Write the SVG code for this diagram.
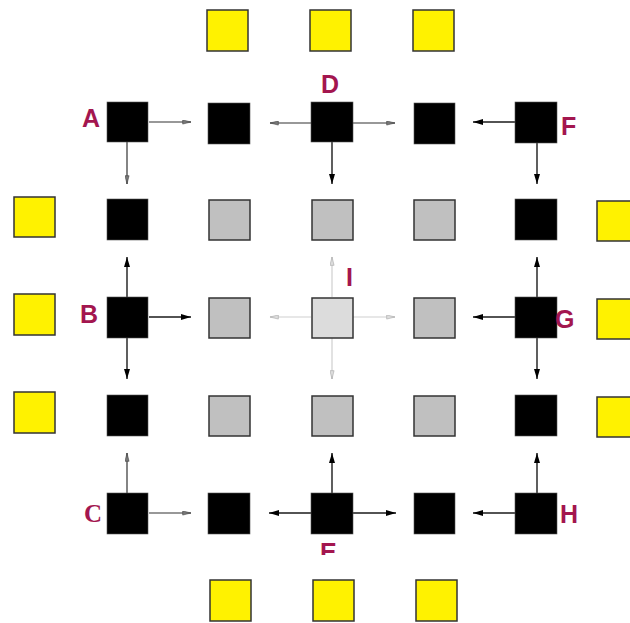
<svg xmlns="http://www.w3.org/2000/svg" width="630" height="623" viewBox="0 0 630 623">
<style>
.y{fill:#fff200;stroke:#333;stroke-width:1.5}
.b{fill:#000;stroke:#555;stroke-width:0.6}
.g{fill:#c0c0c0;stroke:#333;stroke-width:1.5}
.c{fill:#dcdcdc;stroke:#333;stroke-width:1.5}
.lbl{font-family:"Liberation Sans",Arial,sans-serif;font-weight:bold;font-size:25px;fill:#a3164f}
.ser{font-family:"Liberation Serif","Times New Roman",serif}
.a{stroke:#1a1a1a;stroke-width:1.4;fill:none;marker-end:url(#hd)}
.t{stroke:#333;stroke-width:1.2;fill:none;marker-end:url(#hl)}
.i{stroke:#cfcfcf;stroke-width:1.2;fill:none;marker-end:url(#hi)}
</style>
<defs>
<marker id="hd" viewBox="0 0 10 6" refX="10" refY="3" markerWidth="10" markerHeight="6" markerUnits="userSpaceOnUse" orient="auto">
<path d="M0,0 L10,3 L0,6 z" fill="#000"/>
</marker>
<marker id="hl" viewBox="0 0 10 6" refX="10" refY="3" markerWidth="10" markerHeight="5" markerUnits="userSpaceOnUse" orient="auto">
<path d="M0,0.5 L10,3 L0,5.5 z" fill="#777" stroke="#333" stroke-width="0.6"/>
</marker>
<marker id="hi" viewBox="0 0 10 6" refX="10" refY="3" markerWidth="10" markerHeight="5" markerUnits="userSpaceOnUse" orient="auto">
<path d="M0,0.5 L10,3 L0,5.5 z" fill="#ddd" stroke="#999" stroke-width="0.6"/>
</marker>
<clipPath id="clipE"><rect x="300" y="530" width="60" height="25"/></clipPath>
</defs>

<g id="connectors">
<!-- A -->
<line class="t" x1="149" y1="122" x2="191" y2="122"/>
<line class="t" x1="127" y1="142" x2="127" y2="184"/>
<!-- D -->
<line class="t" x1="311" y1="123" x2="270" y2="123"/>
<line class="t" x1="353" y1="123" x2="395" y2="123"/>
<line class="a" x1="332" y1="142" x2="332" y2="184"/>
<!-- F -->
<line class="a" x1="515" y1="122" x2="473" y2="122"/>
<line class="a" x1="537" y1="143" x2="537" y2="184"/>
<!-- B -->
<line class="a" x1="127" y1="297" x2="127" y2="257"/>
<line class="a" x1="149" y1="317" x2="191" y2="317"/>
<line class="a" x1="127" y1="338" x2="127" y2="379"/>
<!-- I -->
<line class="i" x1="332" y1="297" x2="332" y2="257"/>
<line class="i" x1="311" y1="317" x2="270" y2="317"/>
<line class="i" x1="353" y1="317" x2="395" y2="317"/>
<line class="i" x1="332" y1="338" x2="332" y2="379"/>
<!-- G -->
<line class="a" x1="537" y1="297" x2="537" y2="257"/>
<line class="a" x1="515" y1="317" x2="473" y2="317"/>
<line class="a" x1="537" y1="338" x2="537" y2="379"/>
<!-- C -->
<line class="t" x1="127" y1="493" x2="127" y2="453"/>
<line class="t" x1="149" y1="513" x2="191" y2="513"/>
<!-- E -->
<line class="a" x1="332" y1="493" x2="332" y2="453"/>
<line class="a" x1="311" y1="513" x2="269" y2="513"/>
<line class="a" x1="353" y1="513" x2="396" y2="513"/>
<!-- H -->
<line class="a" x1="537" y1="493" x2="537" y2="453"/>
<line class="a" x1="515" y1="513" x2="473" y2="513"/>
</g>

<!-- yellow squares -->
<g id="y-top-1"><rect class="y" x="207" y="10" width="41" height="41"/></g>
<g id="y-top-2"><rect class="y" x="310" y="10" width="41" height="41"/></g>
<g id="y-top-3"><rect class="y" x="413" y="10" width="41" height="41"/></g>
<g id="y-bot-1"><rect class="y" x="210" y="580" width="41" height="41"/></g>
<g id="y-bot-2"><rect class="y" x="313" y="580" width="41" height="41"/></g>
<g id="y-bot-3"><rect class="y" x="416" y="580" width="41" height="41"/></g>
<g id="y-left-1"><rect class="y" x="14" y="197" width="41" height="40"/></g>
<g id="y-left-2"><rect class="y" x="14" y="294" width="41" height="41"/></g>
<g id="y-left-3"><rect class="y" x="14" y="392" width="41" height="41"/></g>
<g id="y-right-1"><rect class="y" x="597" y="201" width="41" height="40"/></g>
<g id="y-right-2"><rect class="y" x="597" y="299" width="41" height="40"/></g>
<g id="y-right-3"><rect class="y" x="597" y="397" width="41" height="40"/></g>

<!-- row 1 -->
<g id="A"><rect class="b" x="107" y="102" width="41" height="40"/><text class="lbl" x="82" y="127">A</text></g>
<g id="n12"><rect class="b" x="208" y="103" width="42" height="41"/></g>
<g id="D"><rect class="b" x="311" y="102" width="42" height="40"/><text class="lbl" x="321" y="93">D</text></g>
<g id="n14"><rect class="b" x="414" y="103" width="41" height="41"/></g>
<g id="F"><rect class="b" x="515" y="102" width="42" height="41"/><text class="lbl" x="561" y="135">F</text></g>

<!-- row 2 -->
<g id="n21"><rect class="b" x="107" y="199" width="41" height="41"/></g>
<g id="n22"><rect class="g" x="209" y="200" width="41" height="40"/></g>
<g id="n23"><rect class="g" x="312" y="200" width="41" height="40"/></g>
<g id="n24"><rect class="g" x="414" y="200" width="41" height="40"/></g>
<g id="n25"><rect class="b" x="515" y="199" width="42" height="41"/></g>

<!-- row 3 -->
<g id="B"><rect class="b" x="107" y="297" width="41" height="41"/><text class="lbl" x="80" y="323">B</text></g>
<g id="n32"><rect class="g" x="209" y="298" width="41" height="40"/></g>
<g id="I"><rect class="c" x="312" y="298" width="41" height="40"/><text class="lbl" x="346" y="286">I</text></g>
<g id="n34"><rect class="g" x="414" y="298" width="41" height="40"/></g>
<g id="G"><rect class="b" x="515" y="297" width="42" height="41"/><text class="lbl" x="555" y="328">G</text></g>

<!-- row 4 -->
<g id="n41"><rect class="b" x="107" y="395" width="41" height="41"/></g>
<g id="n42"><rect class="g" x="209" y="396" width="41" height="40"/></g>
<g id="n43"><rect class="g" x="312" y="396" width="41" height="40"/></g>
<g id="n44"><rect class="g" x="414" y="396" width="41" height="40"/></g>
<g id="n45"><rect class="b" x="515" y="395" width="42" height="41"/></g>

<!-- row 5 -->
<g id="C"><rect class="b" x="107" y="493" width="41" height="41"/><text class="lbl ser" x="84" y="522">C</text></g>
<g id="n52"><rect class="b" x="208" y="493" width="42" height="41"/></g>
<g id="E"><rect class="b" x="311" y="493" width="42" height="41"/><text class="lbl" x="320" y="561" clip-path="url(#clipE)">E</text></g>
<g id="n54"><rect class="b" x="414" y="493" width="41" height="41"/></g>
<g id="H"><rect class="b" x="515" y="493" width="42" height="41"/><text class="lbl" x="560" y="523">H</text></g>
</svg>
